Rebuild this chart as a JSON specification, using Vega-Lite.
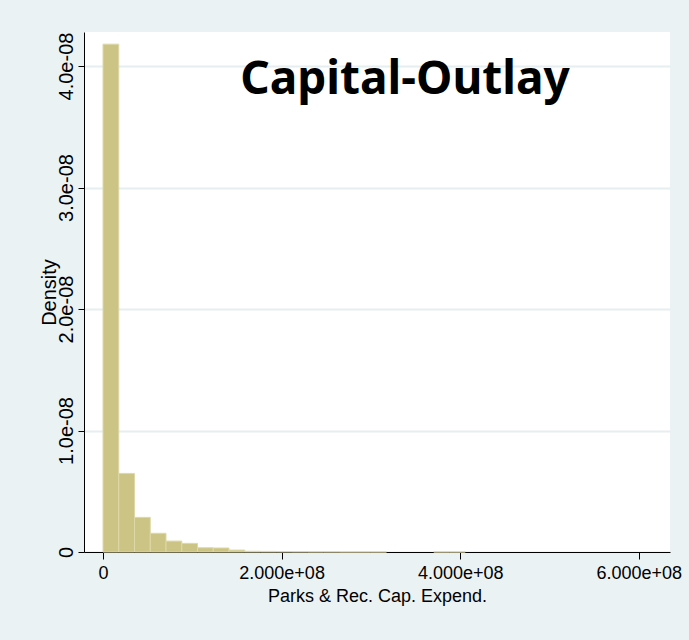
{
  "$schema": "https://vega.github.io/schema/vega-lite/v6.json",
  "width": 586,
  "height": 520,
  "autosize": "none",
  "padding": {"left": 84, "top": 32, "right": 19, "bottom": 88},
  "background": "#EAF2F3",
  "config": {
    "view": {"fill": "white", "stroke": null},
    "font": "Liberation Sans"
  },
  "title": {
    "text": "Capital-Outlay",
    "font": "Noto Sans",
    "fontSize": 46,
    "fontWeight": "bold",
    "color": "black",
    "anchor": "middle",
    "frame": "group",
    "baseline": "alphabetic",
    "orient": "top",
    "offset": -108,
    "dx": 28
  },
  "data": {
    "values": [
      {"bin_start": 0, "bin_end": 17640000, "density": 4.18e-8},
      {"bin_start": 17640000, "bin_end": 35280000, "density": 0.647e-8},
      {"bin_start": 35280000, "bin_end": 52920000, "density": 0.285e-8},
      {"bin_start": 52920000, "bin_end": 70560000, "density": 0.154e-8},
      {"bin_start": 70560000, "bin_end": 88200000, "density": 0.09e-8},
      {"bin_start": 88200000, "bin_end": 105840000, "density": 0.071e-8},
      {"bin_start": 105840000, "bin_end": 123480000, "density": 0.035e-8},
      {"bin_start": 123480000, "bin_end": 141120000, "density": 0.033e-8},
      {"bin_start": 141120000, "bin_end": 158760000, "density": 0.016e-8},
      {"bin_start": 158760000, "bin_end": 176400000, "density": 0.006e-8},
      {"bin_start": 176400000, "bin_end": 194040000, "density": 0.005e-8},
      {"bin_start": 194040000, "bin_end": 211680000, "density": 0.004e-8},
      {"bin_start": 211680000, "bin_end": 229320000, "density": 0.003e-8},
      {"bin_start": 229320000, "bin_end": 246960000, "density": 0.002e-8},
      {"bin_start": 246960000, "bin_end": 264600000, "density": 0.002e-8},
      {"bin_start": 264600000, "bin_end": 282240000, "density": 0.001e-8},
      {"bin_start": 282240000, "bin_end": 299880000, "density": 0.001e-8},
      {"bin_start": 299880000, "bin_end": 317520000, "density": 0.001e-8},
      {"bin_start": 370440000, "bin_end": 388080000, "density": 0.001e-8},
      {"bin_start": 388080000, "bin_end": 405720000, "density": 0.001e-8}
    ]
  },
  "mark": {"type": "bar", "fill": "#CCC484", "stroke": "#DDD8A8", "strokeWidth": 1},
  "encoding": {
    "x": {
      "field": "bin_start",
      "type": "quantitative",
      "scale": {"domain": [-21300000, 635000000], "nice": false, "zero": false},
      "axis": {
        "title": "Parks & Rec. Cap. Expend.",
        "values": [0, 200000000, 400000000, 600000000],
        "labelExpr": "datum.value == 0 ? '0' : format(datum.value / 1e8, '.3f') + 'e+08'",
        "labelFont": "Liberation Sans",
        "labelFontSize": 18,
        "labelColor": "black",
        "titleFont": "Liberation Sans",
        "titleFontSize": 18,
        "titleFontWeight": "normal",
        "titleColor": "black",
        "domainColor": "black",
        "tickColor": "black",
        "tickSize": 7,
        "labelPadding": 5,
        "titlePadding": 5,
        "grid": false,
        "labelFlush": false,
        "labelOverlap": false
      }
    },
    "x2": {"field": "bin_end"},
    "y": {
      "field": "density",
      "type": "quantitative",
      "scale": {"domain": [0, 4.28e-8], "nice": false},
      "axis": {
        "title": "Density",
        "values": [0, 1e-8, 2e-8, 3e-8, 4e-8],
        "labelExpr": "datum.value == 0 ? '0' : format(datum.value * 1e8, '.1f') + 'e-08'",
        "labelAngle": 270,
        "labelAlign": "center",
        "labelBaseline": "alphabetic",
        "labelFont": "Liberation Sans",
        "labelFontSize": 20,
        "labelColor": "black",
        "labelPadding": 6,
        "titleFont": "Liberation Sans",
        "titleFontSize": 20,
        "titleFontWeight": "normal",
        "titleColor": "black",
        "titlePadding": -3,
        "domainColor": "black",
        "tickColor": "black",
        "tickSize": 6,
        "grid": true,
        "gridColor": "#E6EEF0",
        "gridWidth": 2,
        "labelFlush": false,
        "labelOverlap": false
      }
    },
    "y2": {"datum": 0}
  }
}
